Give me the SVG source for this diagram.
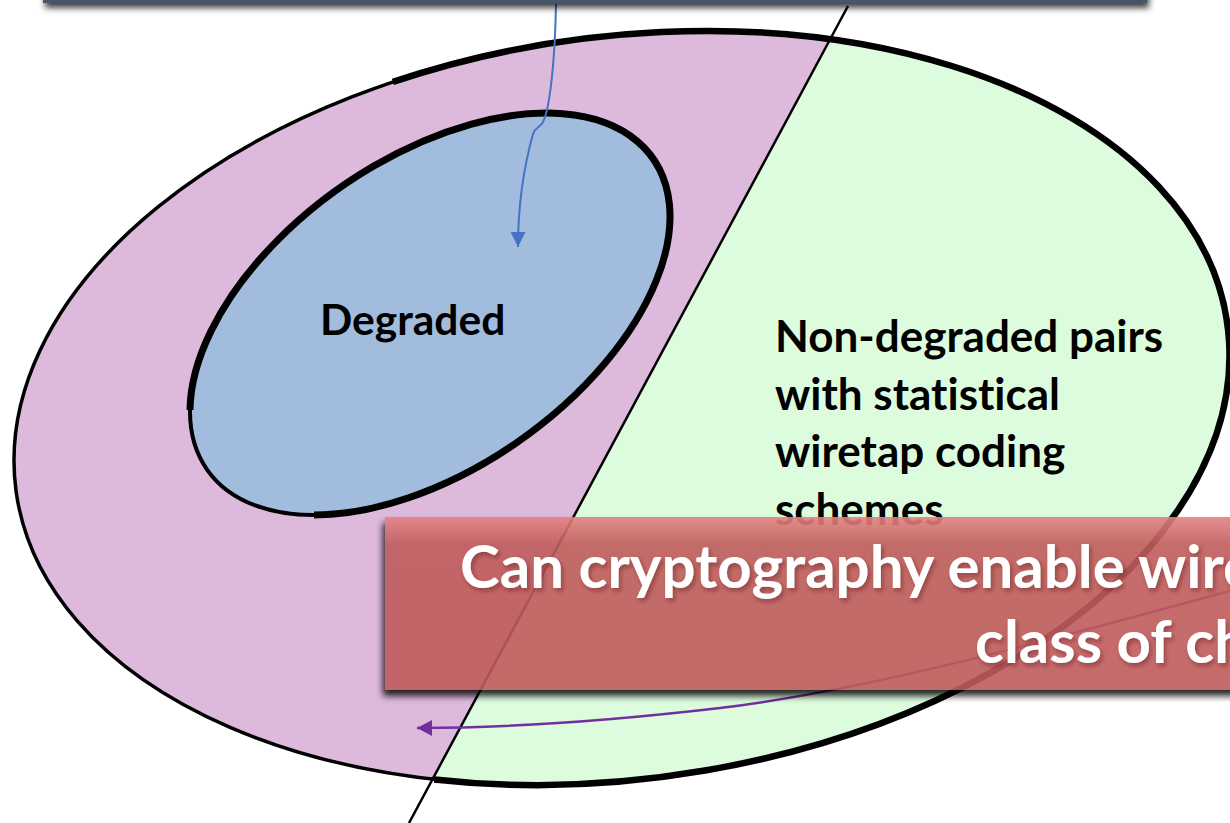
<svg xmlns="http://www.w3.org/2000/svg" width="1230" height="823" viewBox="0 0 1230 823">
<defs>
<style>
.lbl{font-family:"Lato","Liberation Sans",sans-serif;font-weight:bold;fill:#000;font-variant-ligatures:none}
.big{font-family:"Lato","Liberation Sans",sans-serif;font-weight:bold;fill:#fff;font-size:60px;font-variant-ligatures:none}
.edge{fill:none;stroke:#000}
</style>
<clipPath id="outerClip"><ellipse cx="622" cy="408" rx="611.6" ry="371.1" transform="rotate(-7.86 622 408)"/></clipPath>
<linearGradient id="boxGrad" x1="0" y1="0" x2="0" y2="1">
<stop offset="0" stop-color="#E48282"/>
<stop offset="0.16" stop-color="#BF5C5C"/>
<stop offset="1" stop-color="#BF5B5B"/>
</linearGradient>
<filter id="blur6" x="-10%" y="-30%" width="120%" height="160%"><feGaussianBlur stdDeviation="3.5"/></filter>
<filter id="barShadow" x="-5%" y="-100%" width="110%" height="400%"><feDropShadow dx="2" dy="5" stdDeviation="3" flood-color="#000" flood-opacity="0.75"/></filter>
<filter id="txtShadow" x="-5%" y="-20%" width="110%" height="150%"><feDropShadow dx="2" dy="3" stdDeviation="2" flood-color="#5a1e1e" flood-opacity="0.45"/></filter>
<mask id="boxOut" maskUnits="userSpaceOnUse" x="0" y="0" width="1230" height="823">
<rect x="0" y="0" width="1230" height="823" fill="#fff"/>
<rect x="385" y="517" width="900" height="173" fill="#000"/>
</mask>
<marker id="arrBlue" viewBox="0 0 15 15" refX="15" refY="7.5" markerWidth="15" markerHeight="15" markerUnits="userSpaceOnUse" orient="auto"><path d="M0,0 L15,7.5 L0,15 z" fill="#4472C4"/></marker>
<marker id="arrPurple" viewBox="0 0 15 16" refX="15" refY="8" markerWidth="15" markerHeight="16" markerUnits="userSpaceOnUse" orient="auto"><path d="M0,0 L15,8 L0,16 z" fill="#7030A0"/></marker>
</defs>

<g id="outer-set">
<ellipse cx="622" cy="408" rx="611.6" ry="371.1" transform="rotate(-7.86 622 408)" fill="#DDB9DC"/>
<polygon points="850.7,0 1300,0 1300,823 410,823" fill="#DDFBDD" clip-path="url(#outerClip)"/>
<ellipse class="edge" cx="622" cy="408" rx="611.6" ry="371.1" transform="rotate(-7.86 622 408)" stroke-width="3.5"/>
<path class="edge" d="M 392.9 81.9 A 611.6 371.1 -7.86 1 1 434.3 779.4" stroke-width="6.5"/>
</g>

<g id="degraded">
<ellipse cx="430" cy="314" rx="271.9" ry="155.1" transform="rotate(-34.9 430 314)" fill="#A2BCDD" stroke="#000" stroke-width="4"/>
<path class="edge" d="M 190 410 A 271.9 155.1 -34.9 1 1 314 515" stroke-width="7"/>
<text class="lbl" x="320" y="335" font-size="42.5">Degraded</text>
</g>

<g id="divider">
<line x1="848" y1="6" x2="409" y2="823" stroke="#000" stroke-width="2.5"/>
</g>

<g id="non-degraded">
<text class="lbl" font-size="44"><tspan x="775" y="352">Non-degraded pairs</tspan><tspan x="775" y="409.5">with statistical</tspan><tspan x="775" y="467">wiretap coding</tspan><tspan x="775" y="524.5">schemes</tspan></text>
</g>

<g id="connectors">
<path d="M 556 4 C 555 60, 550 108, 543 122 C 540 128, 535 127, 533 134 C 523 170, 518 205, 518 247" fill="none" stroke="#4472C4" stroke-width="2" marker-end="url(#arrBlue)"/>
<path d="M 1240 588 C 1050 640, 870 690, 720 708 C 600 722, 500 728, 417 728" fill="none" stroke="#7030A0" stroke-width="2.5" marker-end="url(#arrPurple)"/>
</g>

<g id="top-bar">
<rect x="43" y="-20" width="1104" height="23" fill="#44546A" filter="url(#barShadow)"/>
</g>

<g id="question-box">
<rect x="383" y="523" width="900" height="173" fill="#000" opacity="0.85" filter="url(#blur6)" mask="url(#boxOut)"/>
<rect x="385" y="517" width="900" height="173" fill="url(#boxGrad)" fill-opacity="0.9"/>
<g filter="url(#txtShadow)">
<text class="big" x="460" y="588">Can cryptography enable wire</text>
<text class="big" x="975" y="663">class of ch</text>
</g>
</g>
</svg>
